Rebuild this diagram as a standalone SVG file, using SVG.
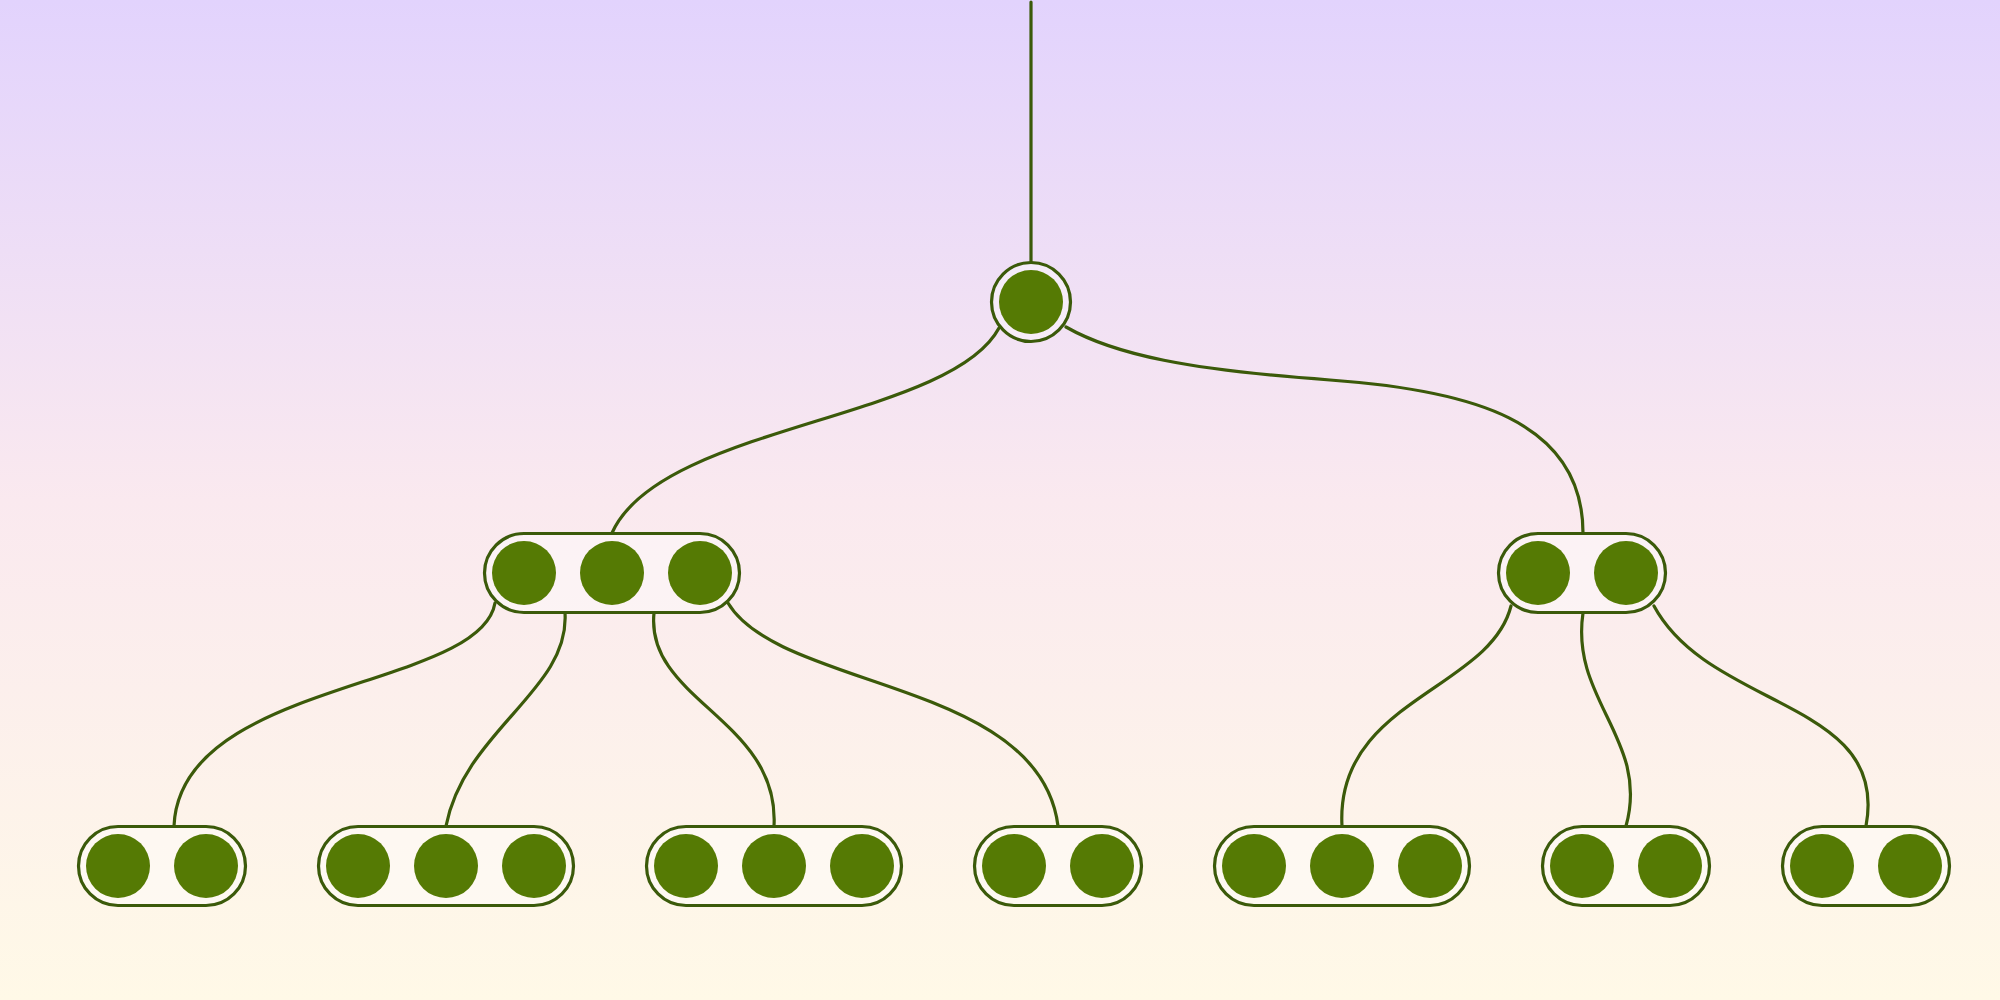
<svg xmlns="http://www.w3.org/2000/svg" width="2000" height="1000" viewBox="0 0 2000 1000">
  <defs>
    <linearGradient id="bg" x1="0" y1="0" x2="0" y2="1">
      <stop offset="0" stop-color="#e2d3fd"/>
      <stop offset="0.5" stop-color="#fae9ef"/>
      <stop offset="1" stop-color="#fff9e7"/>
    </linearGradient>
  </defs>
  <style>
    .link { fill: none; stroke: #3b5a0a; stroke-width: 3.2; stroke-linecap: round; }
    .shell { fill: #ffffff; fill-opacity: 0.4; stroke: #3b5a0a; stroke-width: 3.2; }
    .key { fill: #557a04; }
  </style>
  <rect x="0" y="0" width="2000" height="1000" fill="url(#bg)"/>

  <g id="connectors">
    <path class="link" d="M1031,2 L1031,261"/>
    <path class="link" d="M999,328 C950,420 660,425 612,533"/>
    <path class="link" d="M1066,327 C1115,355 1190,370 1330,380 C1470,390 1583,420 1583,533"/>
    <path class="link" d="M495,603 C480,690 180,680 174,826"/>
    <path class="link" d="M565,613 C570,690 465,730 446,826"/>
    <path class="link" d="M654,613 C645,700 780,720 774,826"/>
    <path class="link" d="M728,603 C780,690 1040,680 1058,826"/>
    <path class="link" d="M1511,606 C1490,690 1335,700 1342,826"/>
    <path class="link" d="M1583,613 C1570,700 1650,740 1626,826"/>
    <path class="link" d="M1654,606 C1710,710 1890,700 1866,826"/>
  </g>

  <g id="root">
    <circle class="shell" cx="1031" cy="302" r="39.5"/>
    <circle class="key" cx="1031" cy="302" r="32"/>
  </g>

  <g id="inner-left">
    <rect class="shell" x="484.5" y="533.5" width="255" height="79" rx="39.5"/>
    <circle class="key" cx="524" cy="573" r="32"/>
    <circle class="key" cx="612" cy="573" r="32"/>
    <circle class="key" cx="700" cy="573" r="32"/>
  </g>

  <g id="inner-right">
    <rect class="shell" x="1498.5" y="533.5" width="167" height="79" rx="39.5"/>
    <circle class="key" cx="1538" cy="573" r="32"/>
    <circle class="key" cx="1626" cy="573" r="32"/>
  </g>

  <g id="leaf-1">
    <rect class="shell" x="78.5" y="826.5" width="167" height="79" rx="39.5"/>
    <circle class="key" cx="118" cy="866" r="32"/>
    <circle class="key" cx="206" cy="866" r="32"/>
  </g>

  <g id="leaf-2">
    <rect class="shell" x="318.5" y="826.5" width="255" height="79" rx="39.5"/>
    <circle class="key" cx="358" cy="866" r="32"/>
    <circle class="key" cx="446" cy="866" r="32"/>
    <circle class="key" cx="534" cy="866" r="32"/>
  </g>

  <g id="leaf-3">
    <rect class="shell" x="646.5" y="826.5" width="255" height="79" rx="39.5"/>
    <circle class="key" cx="686" cy="866" r="32"/>
    <circle class="key" cx="774" cy="866" r="32"/>
    <circle class="key" cx="862" cy="866" r="32"/>
  </g>

  <g id="leaf-4">
    <rect class="shell" x="974.5" y="826.5" width="167" height="79" rx="39.5"/>
    <circle class="key" cx="1014" cy="866" r="32"/>
    <circle class="key" cx="1102" cy="866" r="32"/>
  </g>

  <g id="leaf-5">
    <rect class="shell" x="1214.5" y="826.5" width="255" height="79" rx="39.5"/>
    <circle class="key" cx="1254" cy="866" r="32"/>
    <circle class="key" cx="1342" cy="866" r="32"/>
    <circle class="key" cx="1430" cy="866" r="32"/>
  </g>

  <g id="leaf-6">
    <rect class="shell" x="1542.5" y="826.5" width="167" height="79" rx="39.5"/>
    <circle class="key" cx="1582" cy="866" r="32"/>
    <circle class="key" cx="1670" cy="866" r="32"/>
  </g>

  <g id="leaf-7">
    <rect class="shell" x="1782.5" y="826.5" width="167" height="79" rx="39.5"/>
    <circle class="key" cx="1822" cy="866" r="32"/>
    <circle class="key" cx="1910" cy="866" r="32"/>
  </g>
</svg>
